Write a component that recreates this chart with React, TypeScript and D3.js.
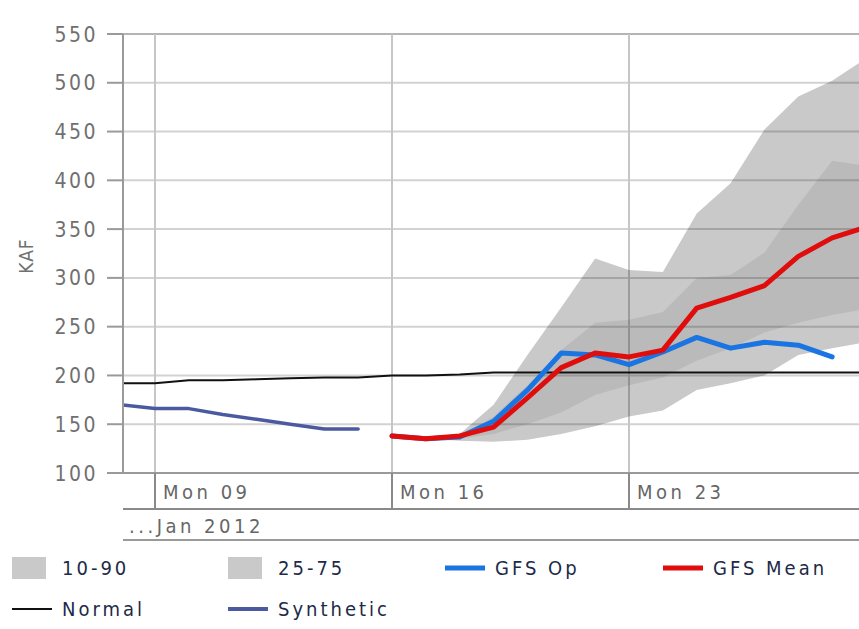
import React, { useRef, useEffect } from 'react';
import * as d3 from 'd3';

// daily values, KAF
const normalStart = '2012-01-08';
const normalValues = [192, 192, 195, 195, 196, 197, 198, 198, 200, 200, 201, 203, 203, 203, 203, 203, 203, 203, 203, 203, 203, 203, 203];

const synthStart = '2012-01-08';
const synthValues = [170, 166, 166, 160, 155, 150, 145, 145];

const fcstStart = '2012-01-16';
const gfsMean = [138, 135, 138, 147, 177, 208, 223, 219, 226, 269, 280, 292, 322, 341, 352];
const gfsOp = [138, 135, 137, 153, 185, 223, 221, 211, 224, 239, 228, 234, 231, 219];
const p90 = [138, 136, 140, 170, 221, 270, 320, 308, 306, 366, 397, 452, 486, 502, 525];
const p75 = [138, 135, 138, 158, 190, 226, 254, 257, 265, 300, 303, 326, 375, 420, 415];
const p25 = [138, 135, 135, 140, 150, 162, 180, 190, 198, 215, 228, 244, 254, 262, 268];
const p10 = [138, 135, 133, 132, 134, 140, 148, 158, 164, 185, 192, 200, 221, 228, 234];

const yTicks = [100, 150, 200, 250, 300, 350, 400, 450, 500, 550];
const xTicks = ['2012-01-09', '2012-01-16', '2012-01-23'];
const xTickLabels = ['Mon 09', 'Mon 16', 'Mon 23'];
const periodLabel = '...Jan 2012';

const FONT = '"DejaVu Sans Condensed", "DejaVu Sans", sans-serif';

const day = (start: string, i: number) => d3.utcDay.offset(new Date(start + 'T00:00:00Z'), i);

const App: React.FC = () => {
  const ref = useRef<SVGSVGElement | null>(null);

  useEffect(() => {
    if (!ref.current) return;
    const svg = d3.select(ref.current);
    svg.selectAll('*').remove();

    const left = 123, right = 859, top = 34, bottom = 473;

    const x = d3.scaleUtc()
      .domain([new Date('2012-01-09T00:00:00Z'), new Date('2012-01-16T00:00:00Z')])
      .range([155, 392]);
    const y = d3.scaleLinear().domain([100, 550]).range([bottom, top]);

    svg.append('defs').append('clipPath').attr('id', 'plot-clip')
      .append('rect').attr('x', left).attr('y', top).attr('width', right - left).attr('height', bottom - top);

    // horizontal grid
    svg.append('g').selectAll('line').data(yTicks).enter().append('line')
      .attr('x1', left).attr('x2', right)
      .attr('y1', d => y(d)).attr('y2', d => y(d))
      .attr('stroke', d => d === 550 ? '#b4b4b4' : '#d2d2d2')
      .attr('stroke-width', 2);

    // vertical grid + tick row separators
    svg.append('g').selectAll('line').data(xTicks).enter().append('line')
      .attr('x1', d => x(new Date(d + 'T00:00:00Z'))).attr('x2', d => x(new Date(d + 'T00:00:00Z')))
      .attr('y1', top).attr('y2', bottom)
      .attr('stroke', '#c6c6c6').attr('stroke-width', 2);

    const plot = svg.append('g').attr('clip-path', 'url(#plot-clip)');

    const fIdx = d3.range(p90.length);
    const band = (lo: number[], hi: number[]) => d3.area<number>()
      .x(i => x(day(fcstStart, i)))
      .y0(i => y(lo[i]))
      .y1(i => y(hi[i]));

    plot.append('path').datum(fIdx).attr('d', band(p10, p90))
      .attr('fill', '#000').attr('fill-opacity', 0.21);
    plot.append('path').datum(fIdx).attr('d', band(p25, p75))
      .attr('fill', '#000').attr('fill-opacity', 0.07);

    const line = (start: string, vals: number[]) => d3.line<number>()
      .x((_, i) => x(day(start, i)))
      .y(v => y(v))(vals);

    plot.append('path').attr('d', line(normalStart, normalValues))
      .attr('fill', 'none').attr('stroke', '#111').attr('stroke-width', 2);
    plot.append('path').attr('d', line(synthStart, synthValues))
      .attr('fill', 'none').attr('stroke', '#4b5aa0').attr('stroke-width', 3.5)
      .attr('stroke-linejoin', 'round').attr('stroke-linecap', 'round');
    plot.append('path').attr('d', line(fcstStart, gfsOp))
      .attr('fill', 'none').attr('stroke', '#1a74e2').attr('stroke-width', 5)
      .attr('stroke-linejoin', 'round').attr('stroke-linecap', 'round');
    plot.append('path').attr('d', line(fcstStart, gfsMean))
      .attr('fill', 'none').attr('stroke', '#e00d0d').attr('stroke-width', 5)
      .attr('stroke-linejoin', 'round').attr('stroke-linecap', 'round');

    // y axis
    svg.append('line').attr('x1', left).attr('x2', left).attr('y1', top).attr('y2', bottom)
      .attr('stroke', '#9a9a9a').attr('stroke-width', 2);
    const yAxis = svg.append('g');
    yAxis.selectAll('line').data(yTicks).enter().append('line')
      .attr('x1', 107).attr('x2', left).attr('y1', d => y(d)).attr('y2', d => y(d))
      .attr('stroke', '#9a9a9a').attr('stroke-width', 2);
    yAxis.selectAll('text').data(yTicks).enter().append('text')
      .attr('x', 98).attr('y', d => y(d)).attr('dy', '0.36em')
      .attr('text-anchor', 'end')
      .style('font-family', FONT).style('font-size', '21px').style('letter-spacing', '2.5px')
      .attr('fill', '#707070')
      .text(d => d);
    svg.append('text')
      .attr('transform', 'translate(33,256) rotate(-90)')
      .attr('text-anchor', 'middle')
      .style('font-family', FONT).style('font-size', '19px').style('letter-spacing', '1px')
      .attr('fill', '#707070').text('KAF');

    // x axis rows
    svg.append('line').attr('x1', left).attr('x2', right).attr('y1', bottom).attr('y2', bottom)
      .attr('stroke', '#9a9a9a').attr('stroke-width', 2);
    svg.append('g').selectAll('line').data(xTicks).enter().append('line')
      .attr('x1', d => x(new Date(d + 'T00:00:00Z'))).attr('x2', d => x(new Date(d + 'T00:00:00Z')))
      .attr('y1', bottom).attr('y2', 509)
      .attr('stroke', '#8a8a8a').attr('stroke-width', 2);
    svg.append('g').selectAll('text').data(xTicks).enter().append('text')
      .attr('x', d => x(new Date(d + 'T00:00:00Z')) + 8).attr('y', 499)
      .style('font-family', FONT).style('font-size', '20px').style('letter-spacing', '3.5px')
      .attr('fill', '#666')
      .text((_, i) => xTickLabels[i]);
    svg.append('line').attr('x1', left).attr('x2', right).attr('y1', 509).attr('y2', 509)
      .attr('stroke', '#8a8a8a').attr('stroke-width', 2);
    svg.append('text').attr('x', 129).attr('y', 533)
      .style('font-family', FONT).style('font-size', '20px').style('letter-spacing', '3.5px')
      .attr('fill', '#666').text(periodLabel);
    svg.append('line').attr('x1', left).attr('x2', right).attr('y1', 540).attr('y2', 540)
      .attr('stroke', '#9a9a9a').attr('stroke-width', 2);

    // legend
    const legend = [
      { name: '10-90', kind: 'box', color: '#c9c9c9', w: 0, x: 12, y: 568 },
      { name: '25-75', kind: 'box', color: '#c9c9c9', w: 0, x: 228, y: 568 },
      { name: 'GFS Op', kind: 'line', color: '#1a74e2', w: 5, x: 445, y: 568 },
      { name: 'GFS Mean', kind: 'line', color: '#e00d0d', w: 5, x: 663, y: 568 },
      { name: 'Normal', kind: 'line', color: '#111', w: 2, x: 12, y: 609 },
      { name: 'Synthetic', kind: 'line', color: '#4b5aa0', w: 4, x: 228, y: 609 },
    ];
    const lg = svg.append('g').selectAll('g').data(legend).enter().append('g')
      .attr('transform', d => `translate(${d.x},${d.y})`);
    lg.filter(d => d.kind === 'box').append('rect')
      .attr('x', 0).attr('y', -11).attr('width', 34).attr('height', 22).attr('fill', d => d.color);
    lg.filter(d => d.kind === 'line').append('line')
      .attr('x1', 0).attr('x2', 40).attr('y1', 0).attr('y2', 0)
      .attr('stroke', d => d.color).attr('stroke-width', d => d.w);
    lg.append('text').attr('x', 50).attr('y', 0).attr('dy', '0.36em')
      .style('font-family', FONT).style('font-size', '20px').style('letter-spacing', '3px')
      .attr('fill', '#1d2a48').text(d => d.name);
  }, []);

  return (
    <svg
      ref={ref}
      width={859}
      height={629}
      style={{ position: 'absolute', left: 0, top: 0, background: '#fff' }}
    />
  );
};

export default App;
